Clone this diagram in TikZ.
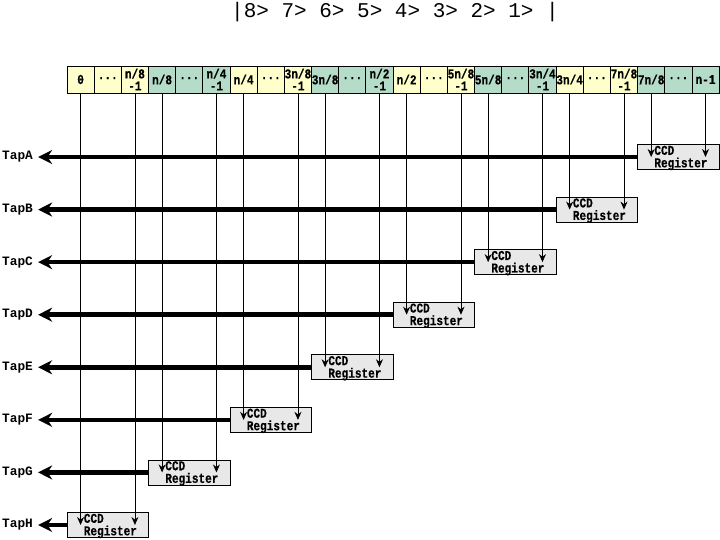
\documentclass[tikz,border=0pt]{standalone}
\usepackage{fontspec}
\setmonofont{Liberation Mono}
\newfontfamily\labfont[FakeStretch=0.82,FakeBold=0.4]{Liberation Mono Bold}
\usetikzlibrary{arrows.meta}
\definecolor{cy}{HTML}{FFFFCC}
\definecolor{cg}{HTML}{B4DCC8}
\definecolor{cb}{HTML}{E8E8E8}
\tikzset{
  cellbox/.style={draw=black, line width=0.8pt, minimum width=27.17pt, minimum height=27pt, inner sep=0pt,
    align=center, font=\labfont\fontsize{13.5}{12}\selectfont},
  regbox/.style={draw=black, line width=0.8pt, fill=cb, minimum width=81.5pt, minimum height=25pt, inner sep=0pt},
  reglabel/.style={anchor=west, inner sep=0pt, align=left, font=\labfont\fontsize{13.5}{12.5}\selectfont},
  taplabel/.style={anchor=west, inner sep=0pt, font=\ttfamily\bfseries\fontsize{12.8}{14}\selectfont},
  feed/.style={line width=0.8pt, -{Stealth[length=8pt,width=7pt]}},
  tapline/.style={line width=4.5pt, -{Stealth[length=14pt,width=14pt]}, shorten >=5pt},
}
\begin{document}
\begin{tikzpicture}[x=1pt,y=-1pt]
\useasboundingbox (0,0) rectangle (720,540);
\node[inner sep=0pt, font=\ttfamily\fontsize{21}{24}\selectfont] (title) at (395,12) {|8> 7> 6> 5> 4> 3> 2> 1> |};
% cells
\foreach \lab [count=\i from 0] in {0,···,{n/8\\-1},n/8,···,{n/4\\-1},n/4,···,{3n/8\\-1},3n/8,···,{n/2\\-1},n/2,···,{5n/8\\-1},5n/8,···,{3n/4\\-1},3n/4,···,{7n/8\\-1},7n/8,···,n-1}{
  \pgfmathtruncatemacro\g{mod(int(\i/3),2)}
  \ifnum\g=0 \def\col{cy}\else\def\col{cg}\fi
  \node[cellbox, fill=\col] (c\i) at ({67+27.17*(\i+0.5)},79.5) {\lab};
}
% registers and taps
\foreach \k/\t in {0/H,1/G,2/F,3/E,4/D,5/C,6/B,7/A}{
  \pgfmathsetmacro\ry{157+52.57*(7-\k)}
  \pgfmathtruncatemacro\a{3*\k}
  \pgfmathtruncatemacro\b{3*\k+2}
  \node[taplabel] (tap\t) at (2,\ry) {Tap\t};
  \node[regbox] (reg\k) at ({67+27.17*(3*\k+1.5)},\ry) {};
  \draw[tapline] (reg\k.west) -- (tap\t.east);
  \node[reglabel] (rl\k) at ([xshift=17pt,yshift=-1pt]reg\k.west) {CCD\\Register};
  \draw[feed] (c\a.south) -- (c\a.south |- reg\k.center);
  \draw[feed] (c\b.south) -- (c\b.south |- reg\k.center);
}
\end{tikzpicture}
\end{document}
